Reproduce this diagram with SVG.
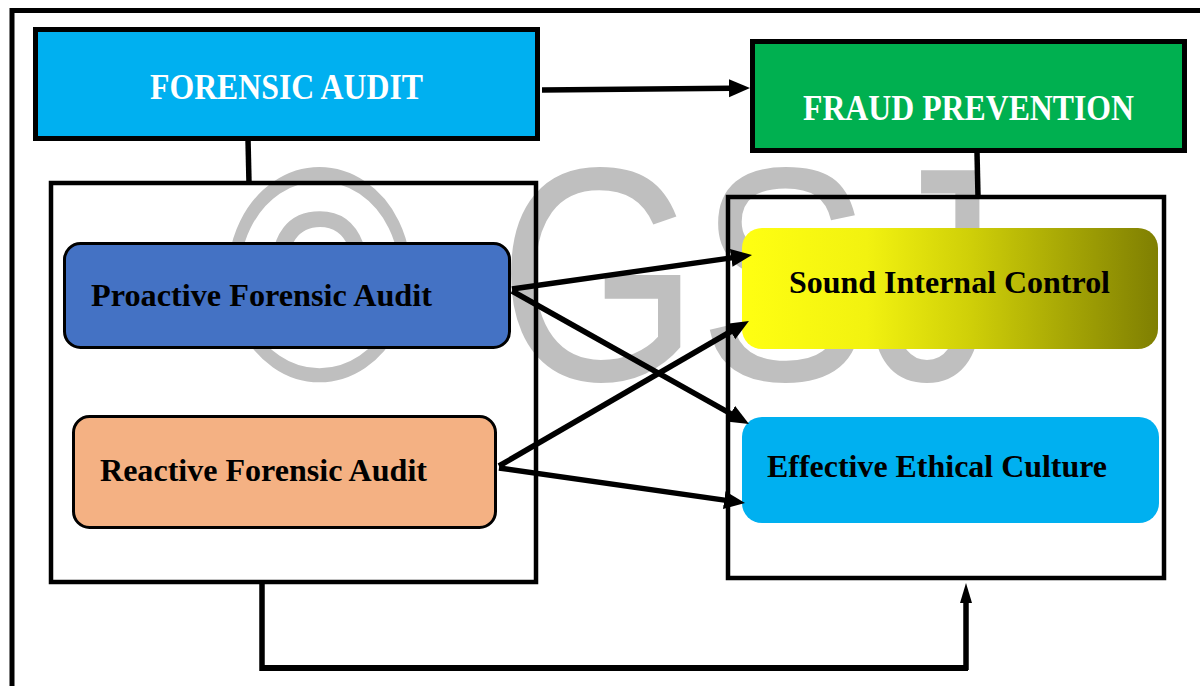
<svg xmlns="http://www.w3.org/2000/svg" width="1200" height="686" viewBox="0 0 1200 686">
<style>
.frame{fill:none;stroke:#000;stroke-width:5}
.cont{fill:none;stroke:#000;stroke-width:4.5}
.hdr{stroke:#000;stroke-width:5}
.sub{stroke:#000;stroke-width:3}
.t{font-family:"Liberation Serif","Times New Roman",serif;font-weight:bold}
.wt{fill:#fff;font-size:35px}
.bt{fill:#000;font-size:32px}
.ln{fill:none;stroke:#000;stroke-width:5.5}
.wm{font-family:"Liberation Sans",Arial,sans-serif;font-size:305px;fill:#BFBFBF}
</style>
<defs>
<marker id="ah" markerUnits="userSpaceOnUse" markerWidth="24" markerHeight="20" refX="2" refY="9" orient="auto">
<path d="M0,0 L21,9 L0,18 Z" fill="#000"/>
</marker>
<marker id="ahn" markerUnits="userSpaceOnUse" markerWidth="22" markerHeight="14" refX="2" refY="6" orient="auto">
<path d="M0,0 L20,6 L0,12 Z" fill="#000"/>
</marker>
<linearGradient id="yg" x1="0" y1="0" x2="1" y2="0">
<stop offset="0" stop-color="#FFFF12"/>
<stop offset="0.3" stop-color="#F2F210"/>
<stop offset="0.55" stop-color="#CFCF08"/>
<stop offset="1" stop-color="#7F7F02"/>
</linearGradient>
</defs>
<rect width="1200" height="686" fill="#fff"/>
<text class="wm" transform="scale(0.85,1)" x="263.5 585.9 821.2 1022.4" y="380">©GSJ</text>
<path class="frame" d="M12,686 V10.5 H1200"/>

<g id="forensic-audit">
<rect class="hdr" x="35.5" y="29.5" width="502" height="109" fill="#00B0F0"/>
<text class="t wt" x="150" y="99" textLength="273" lengthAdjust="spacingAndGlyphs">FORENSIC AUDIT</text>
</g>
<g id="fraud-prevention">
<rect class="hdr" x="752.5" y="41.5" width="432" height="109" fill="#00B050"/>
<text class="t wt" x="803" y="120" textLength="331" lengthAdjust="spacingAndGlyphs">FRAUD PREVENTION</text>
</g>
<g id="left-container">
<rect class="cont" x="51" y="183" width="485" height="399"/>
</g>
<g id="right-container">
<rect class="cont" x="728" y="197" width="436" height="381"/>
</g>
<g id="proactive">
<rect class="sub" x="64.5" y="243.5" width="445" height="104" rx="16" fill="#4472C4"/>
<text class="t bt" x="91" y="306" textLength="341" lengthAdjust="spacingAndGlyphs">Proactive Forensic Audit</text>
</g>
<g id="reactive">
<rect class="sub" x="73.5" y="416.5" width="422" height="111" rx="16" fill="#F4B183"/>
<text class="t bt" x="100" y="481" textLength="327" lengthAdjust="spacingAndGlyphs">Reactive Forensic Audit</text>
</g>
<g id="sound-internal-control">
<rect x="742" y="228" width="416" height="121" rx="20" fill="url(#yg)"/>
<text class="t bt" x="789" y="293" textLength="321" lengthAdjust="spacingAndGlyphs">Sound Internal Control</text>
</g>
<g id="effective-ethical-culture">
<rect x="742" y="417" width="417" height="106" rx="20" fill="#00B0F0"/>
<text class="t bt" x="767" y="477" textLength="340" lengthAdjust="spacingAndGlyphs">Effective Ethical Culture</text>
</g>

<g id="connectors">
<path class="ln" d="M542,90 L731,88.2" marker-end="url(#ah)"/>
<path class="ln" d="M248,139 L249,183" stroke-width="4.5"/>
<path class="ln" d="M977,152 L978,197" stroke-width="4.5"/>
<path class="ln" d="M512,289 L733.2,257.6" marker-end="url(#ah)"/>
<path class="ln" d="M512,291 L732.4,414.7" marker-end="url(#ah)"/>
<path class="ln" d="M499,466 L732.5,330.5" marker-end="url(#ah)"/>
<path class="ln" d="M499,468 L726.2,500.4" marker-end="url(#ah)"/>
<path class="ln" d="M262,584 V671" stroke-width="4.5"/>
<path d="M260,668 H968" fill="none" stroke="#000" stroke-width="6"/>
<path class="ln" d="M966,670 L966,601" stroke-width="3.5" marker-end="url(#ahn)"/>
</g>
</svg>
